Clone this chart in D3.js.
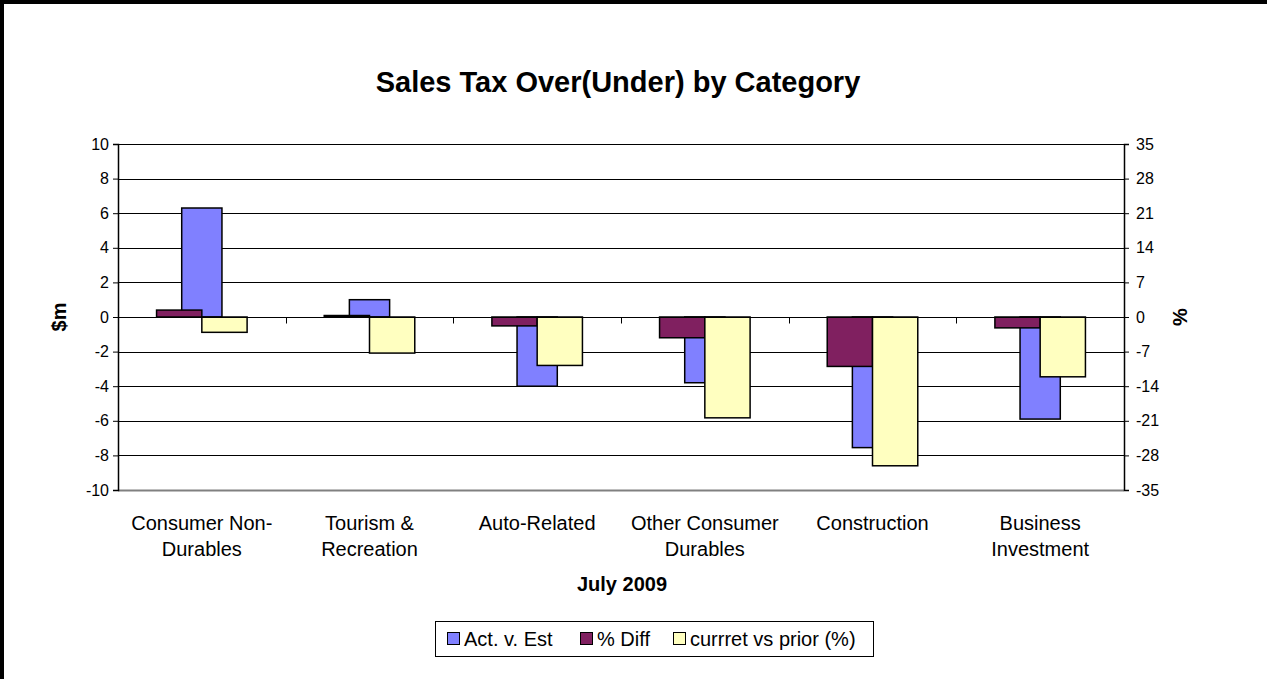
<!DOCTYPE html>
<html>
<head>
<meta charset="utf-8">
<script src="https://cdn.jsdelivr.net/npm/d3@7"></script>
<style>
  html, body { margin: 0; padding: 0; background: #fff; overflow: hidden; }
  svg { display: block; font-family: Arial, "Liberation Sans", sans-serif; }
</style>
</head>
<body>
<div id="chart"></div>
<script>
// data
var categories = [["Consumer Non-", "Durables"], ["Tourism &", "Recreation"], ["Auto-Related"],
                  ["Other Consumer", "Durables"], ["Construction"], ["Business", "Investment"]];
var actVsEst = [6.3, 1.0, -4.0, -3.8, -7.55, -5.9];      // $m, left axis
var pctDiff = [1.4, 0.3, -1.8, -4.2, -10.0, -2.2];        // %, right axis
var curVsPrior = [-3.1, -7.3, -9.8, -20.4, -30.1, -12.1]; // %, right axis
var leftTicks = [-10, -8, -6, -4, -2, 0, 2, 4, 6, 8, 10];
var rightTicks = [-35, -28, -21, -14, -7, 0, 7, 14, 21, 28, 35];
var seriesNames = ["Act. v. Est", "% Diff", "currret vs prior (%)"];
var colors = ["#8080ff", "#802060", "#ffffc0"];

var W = 1267, H = 679;
var margin = {left: 118, right: 143, top: 144, bottom: 189};
var plotW = W - margin.left - margin.right,
    plotH = H - margin.top - margin.bottom;

var svg = d3.select("#chart").append("svg")
    .attr("width", W)
    .attr("height", H);

// outer frame, only the top and left edges are in view
svg.append("path")
    .attr("d", "M2," + H + "V2H" + W)
    .attr("fill", "none")
    .attr("stroke", "#000")
    .attr("stroke-width", 4);

var keys = categories.map(function(d) { return d.join(" "); });

var x0 = d3.scaleBand()
    .domain(keys)
    .range([0, plotW]);

var bw = x0.bandwidth();
var groupW = bw * 0.54;
var x1 = d3.scaleBand()
    .domain(["pct", "cur"])
    .range([(bw - groupW) / 2, (bw + groupW) / 2]);
var blueW = bw * 0.24;

var yL = d3.scaleLinear().domain([-10, 10]).range([plotH, 0]);
var yR = d3.scaleLinear().domain([-35, 35]).range([plotH, 0]);

var g = svg.append("g")
    .attr("transform", "translate(" + margin.left + "," + margin.top + ")");

// gridlines
g.append("g").selectAll("line")
    .data(leftTicks)
    .enter().append("line")
    .attr("x1", 0).attr("x2", plotW)
    .attr("y1", function(d) { return Math.round(yL(d)) + 0.5; })
    .attr("y2", function(d) { return Math.round(yL(d)) + 0.5; })
    .attr("stroke", function(d) { return d === -10 ? "#808080" : "#000"; })
    .attr("stroke-width", function(d) { return d === -10 ? 2 : 1; });

var fmt = function(d) { return String(d); }; // plain hyphen minus, as in the original

// left axis
var axL = g.append("g")
    .call(d3.axisLeft(yL).tickValues(leftTicks).tickFormat(fmt).tickSize(5).tickPadding(4));
// right axis
var axR = g.append("g")
    .attr("transform", "translate(" + plotW + ",0)")
    .call(d3.axisRight(yR).tickValues(rightTicks).tickFormat(fmt).tickSize(5).tickPadding(7));

[axL, axR].forEach(function(ax) {
  ax.attr("font-size", 16).attr("font-family", "Arial, 'Liberation Sans', sans-serif");
  ax.select(".domain").attr("stroke", "#000").attr("stroke-width", 1.5);
  ax.selectAll(".tick line").attr("stroke", "#000");
  ax.selectAll(".tick text").attr("fill", "#000");
});

// Act. v. Est bars (primary axis, centred)
g.append("g").selectAll("rect")
    .data(actVsEst)
    .enter().append("rect")
    .attr("x", function(d, i) { return x0(keys[i]) + (bw - blueW) / 2; })
    .attr("width", blueW)
    .attr("y", function(d) { return yL(Math.max(0, d)); })
    .attr("height", function(d) { return Math.abs(yL(d) - yL(0)); })
    .attr("fill", colors[0])
    .attr("stroke", "#000")
    .attr("stroke-width", 1.5);

// secondary axis bars
var secondary = [{key: "pct", vals: pctDiff, c: colors[1]}, {key: "cur", vals: curVsPrior, c: colors[2]}];
secondary.forEach(function(s) {
  g.append("g").selectAll("rect")
      .data(s.vals)
      .enter().append("rect")
      .attr("x", function(d, i) { return x0(keys[i]) + x1(s.key); })
      .attr("width", x1.bandwidth())
      .attr("y", function(d) { return yR(Math.max(0, d)); })
      .attr("height", function(d) { return Math.abs(yR(d) - yR(0)); })
      .attr("fill", s.c)
      .attr("stroke", "#000")
      .attr("stroke-width", 1.5);
});

// category axis along zero
var zeroY = Math.round(yL(0)) + 0.5;
g.append("line")
    .attr("x1", 0).attr("x2", plotW)
    .attr("y1", zeroY).attr("y2", zeroY)
    .attr("stroke", "#000");
g.append("g").selectAll("line")
    .data(keys.slice(1))
    .enter().append("line")
    .attr("x1", function(d) { return Math.round(x0(d)) + 0.5; })
    .attr("x2", function(d) { return Math.round(x0(d)) + 0.5; })
    .attr("y1", zeroY).attr("y2", zeroY + 6)
    .attr("stroke", "#000");

// category labels below plot
var lab = g.append("g").selectAll("text")
    .data(categories)
    .enter().append("text")
    .attr("x", function(d, i) { return x0(keys[i]) + bw / 2; })
    .attr("y", 530 - margin.top)
    .attr("text-anchor", "middle")
    .attr("font-size", 20);
lab.selectAll("tspan")
    .data(function(d) { return d; })
    .enter().append("tspan")
    .attr("x", function() { return d3.select(this.parentNode).attr("x"); })
    .attr("dy", function(d, i) { return i === 0 ? 0 : 26; })
    .text(function(d) { return d; });

// titles
svg.append("text")
    .attr("x", 618).attr("y", 92)
    .attr("text-anchor", "middle")
    .attr("font-size", 29).attr("font-weight", "bold")
    .text("Sales Tax Over(Under) by Category");

svg.append("text")
    .attr("x", 622).attr("y", 591)
    .attr("text-anchor", "middle")
    .attr("font-size", 20).attr("font-weight", "bold")
    .text("July 2009");

svg.append("text")
    .attr("transform", "translate(66," + (margin.top + yL(0)) + ") rotate(-90)")
    .attr("text-anchor", "middle")
    .attr("font-size", 20).attr("font-weight", "bold")
    .text("$m");

svg.append("text")
    .attr("transform", "translate(1187," + (margin.top + yL(0)) + ") rotate(-90)")
    .attr("text-anchor", "middle")
    .attr("font-size", 20).attr("font-weight", "bold")
    .text("%");

// legend
var leg = svg.append("g").attr("transform", "translate(435,621)");
leg.append("rect")
    .attr("x", 0.5).attr("y", 0.5)
    .attr("width", 438).attr("height", 35)
    .attr("fill", "#fff")
    .attr("stroke", "#000");
var legX = [12, 145, 238];
seriesNames.forEach(function(n, i) {
  leg.append("rect")
      .attr("x", legX[i] + 0.5).attr("y", 11.5)
      .attr("width", 12).attr("height", 12)
      .attr("fill", colors[i])
      .attr("stroke", "#000")
      .attr("stroke-width", 1);
  leg.append("text")
      .attr("x", legX[i] + 17).attr("y", 25)
      .attr("font-size", 20)
      .text(n);
});
</script>
</body>
</html>
